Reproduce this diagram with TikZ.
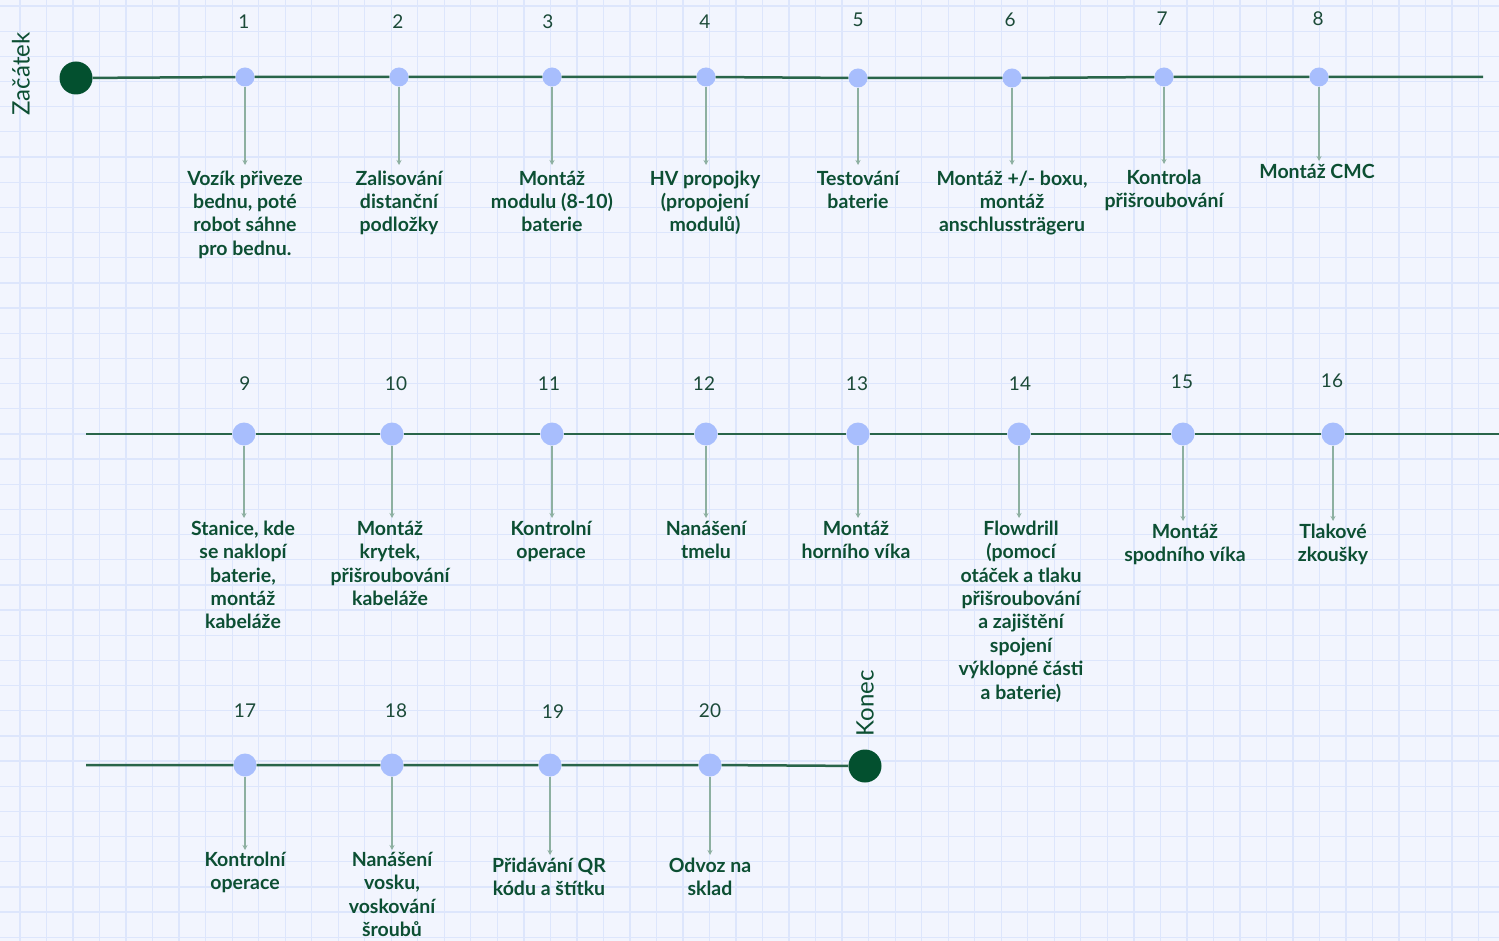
\documentclass[tikz,border=0pt]{standalone}
\usepackage{fontspec}
\setmainfont{Lato}
\usetikzlibrary{arrows.meta}
\definecolor{bgc}{HTML}{F2F5FE}
\definecolor{gridc}{HTML}{DDE6FC}
\definecolor{linec}{HTML}{29654A}
\definecolor{darkdot}{HTML}{03502F}
\definecolor{stepdot}{HTML}{A8BEFD}
\definecolor{arrowc}{HTML}{8DB0A1}
\definecolor{textc}{HTML}{0C4F33}
\definecolor{numc}{HTML}{1B4A38}
\tikzset{
  gridline/.style={draw=gridc, line width=1.3pt},
  mainline/.style={draw=linec, line width=2.5pt},
  smalldot/.style={circle, fill=stepdot, inner sep=0pt, minimum size=19pt},
  bigdot/.style={circle, fill=stepdot, inner sep=0pt, minimum size=23pt},
  enddot/.style={circle, fill=darkdot, inner sep=0pt, minimum size=33pt},
  numlabel/.style={anchor=base, inner sep=0pt, text=numc, font=\fontsize{19}{22}\selectfont},
  steplabel/.style={anchor=north, inner sep=0pt, align=center, text=textc, font=\fontsize{19.5}{23.4}\selectfont\bfseries},
  pointer/.style={draw=arrowc, line width=1.4pt, -{Stealth[length=5pt,width=5pt]}},
  endlabel/.style={rotate=90, inner sep=0pt, text=textc, font=\fontsize{24}{26}\selectfont}
}
% #1 id, #2 dot style, #3 x, #4 y, #5 num x, #6 num baseline, #7 arrow end
\newcommand\mystep[7]{%
  \node[#2] (s#1) at (#3,#4) {};
  \node[numlabel] (n#1) at (#5,#6) {#1};
  \coordinate (a#1) at (#3,#7);
}
% #1 id, #2 x, #3 first baseline, #4 text
\newcommand\mylabel[4]{%
  \node[steplabel] (l#1) at (#2,{#3-17}) {\rule{0pt}{17pt}#4};
}
\begin{document}
\begin{tikzpicture}[x=1pt,y=-1pt]
\useasboundingbox (0,0) rectangle (1499,941);
\fill[bgc] (0,0) rectangle (1499,941);
\foreach \k in {0,...,56} \draw[gridline] ({20+\k*26.52},0) -- ({20+\k*26.52},941);
\foreach \k in {0,...,37} \draw[gridline] (0,{6+\k*25.17}) -- (1499,{6+\k*25.17});

% start / end
\node[enddot] (start) at (76,78) {};
\node[endlabel] (startlbl) at (21,74) {Začátek};
\node[enddot] (end) at (865,766) {};
\node[endlabel] (endlbl) at (865,703) {Konec};

% row 1
\mystep{1}{smalldot}{245}{77}{244}{29}{165}
\mystep{2}{smalldot}{399}{77}{398}{29}{165}
\mystep{3}{smalldot}{552}{77}{548}{29}{165}
\mystep{4}{smalldot}{706}{77}{705}{29}{165}
\mystep{5}{smalldot}{858}{78}{858}{27}{165}
\mystep{6}{smalldot}{1012}{78}{1010}{27}{165}
\mystep{7}{smalldot}{1164}{77}{1162}{26}{164}
\mystep{8}{smalldot}{1319}{77}{1318}{26}{161}
\coordinate (r1end) at (1483,77);

\mylabel{1}{245}{185}{Vozík přiveze\\bednu, poté\\robot sáhne\\pro bednu.}
\mylabel{2}{399}{185}{Zalisování\\distanční\\podložky}
\mylabel{3}{552}{185}{Montáž\\modulu (8-10)\\baterie}
\mylabel{4}{705}{185}{HV propojky\\(propojení\\modulů)}
\mylabel{5}{858}{185}{Testování\\baterie}
\mylabel{6}{1012}{185}{Montáž +/- boxu,\\montáž\\anschlussträgeru}
\mylabel{7}{1164}{184}{Kontrola\\přišroubování}
\mylabel{8}{1317}{178}{Montáž CMC}

% row 2
\coordinate (r2start) at (86,434);
\mystep{9}{bigdot}{244}{434}{245}{390}{518}
\mystep{10}{bigdot}{392}{434}{396}{390}{518}
\mystep{11}{bigdot}{552}{434}{549}{390}{518}
\mystep{12}{bigdot}{706}{434}{704}{390}{518}
\mystep{13}{bigdot}{858}{434}{857}{390}{518}
\mystep{14}{bigdot}{1019}{434}{1020}{390}{518}
\mystep{15}{bigdot}{1183}{434}{1182}{388}{521}
\mystep{16}{bigdot}{1333}{434}{1332}{387}{521}
\coordinate (r2end) at (1499,434);

\mylabel{9}{243}{535}{Stanice, kde\\se naklopí\\baterie,\\montáž\\kabeláže}
\mylabel{10}{390}{535}{Montáž\\krytek,\\přišroubování\\kabeláže}
\mylabel{11}{551}{535}{Kontrolní\\operace}
\mylabel{12}{706}{535}{Nanášení\\tmelu}
\mylabel{13}{856}{535}{Montáž\\horního víka}
\mylabel{14}{1021}{535}{Flowdrill\\(pomocí\\otáček a tlaku\\přišroubování\\a zajištění\\spojení\\výklopné části\\a baterie)}
\mylabel{15}{1185}{538}{Montáž\\spodního víka}
\mylabel{16}{1333}{538}{Tlakové\\zkoušky}

% row 3
\coordinate (r3start) at (86,765);
\mystep{17}{bigdot}{245}{765}{245}{717}{850}
\mystep{18}{bigdot}{392}{765}{396}{717}{850}
\mystep{19}{bigdot}{550}{765}{553}{718}{855}
\mystep{20}{bigdot}{710}{765}{710}{717}{855}

\mylabel{17}{245}{866}{Kontrolní\\operace}
\mylabel{18}{392}{866}{Nanášení\\vosku,\\voskování\\šroubů}
\mylabel{19}{549}{872}{Přidávání QR\\kódu a štítku}
\mylabel{20}{710}{872}{Odvoz na\\sklad}

% main lines
\draw[mainline] (start) -- (s1) -- (s2) -- (s3) -- (s4) -- (s5) -- (s6) -- (s7) -- (s8) -- (r1end);
\draw[mainline] (r2start) -- (s9) -- (s10) -- (s11) -- (s12) -- (s13) -- (s14) -- (s15) -- (s16) -- (r2end);
\draw[mainline] (r3start) -- (s17) -- (s18) -- (s19) -- (s20) -- (end);

% pointers
\foreach \i in {1,...,20} \draw[pointer] (s\i) -- (a\i);
\end{tikzpicture}
\end{document}
